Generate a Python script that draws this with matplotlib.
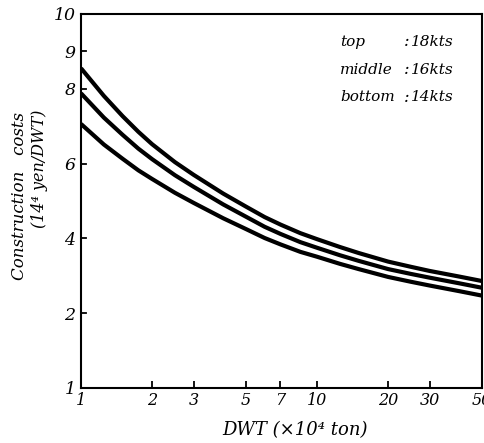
import matplotlib.pyplot as plt

# DWT (x10^4 ton) and construction costs
dwt = [1, 1.25, 1.5, 1.75, 2, 2.5, 3, 4, 5, 6, 7, 8.5, 10, 12.5, 15, 20, 25, 30, 40, 50]
cost_18kts = [8.55, 7.81, 7.27, 6.85, 6.52, 6.04, 5.70, 5.20, 4.85, 4.57,
              4.37, 4.14, 3.98, 3.77, 3.61, 3.38, 3.24, 3.13, 2.98, 2.86]
cost_16kts = [7.88, 7.23, 6.77, 6.40, 6.12, 5.69, 5.38, 4.91, 4.58, 4.31,
              4.12, 3.90, 3.75, 3.55, 3.40, 3.18, 3.05, 2.95, 2.80, 2.68]
cost_14kts = [7.06, 6.51, 6.13, 5.82, 5.59, 5.22, 4.95, 4.54, 4.25, 4.01,
              3.84, 3.64, 3.51, 3.32, 3.18, 2.97, 2.84, 2.74, 2.59, 2.47]

x_ticks = [1, 2, 3, 5, 7, 10, 20, 30, 50]
x_tick_labels = ["1", "2", "3", "5", "7", "10", "20", "30", "50"]
y_ticks = [0, 2, 4, 6, 8, 9, 10]
y_tick_labels = ["1", "2", "4", "6", "8", "9", "10"]

speed_names = ["top", "middle", "bottom"]
speed_values = ["18kts", "16kts", "14kts"]

serif = ["DejaVu Serif", "DejaVu Sans"]
font = dict(family=serif, style="italic")

fig = plt.figure(figsize=(4.85, 4.43), dpi=100)
ax = fig.add_axes([81 / 485, 55 / 443, 401 / 485, 374 / 443])

for costs in (cost_18kts, cost_16kts, cost_14kts):
    ax.plot(dwt, costs, color="black", lw=3.0, solid_capstyle="butt")

ax.set_xscale("log")
ax.set_xlim(1, 50)
ax.set_ylim(0, 10)

ax.set_xticks(x_ticks)
ax.set_xticklabels(x_tick_labels, **font, fontsize=11.5)
ax.minorticks_off()
ax.set_yticks(y_ticks)
ax.set_yticklabels(y_tick_labels, **font, fontsize=12.5)
ax.tick_params(direction="in", length=5, width=1.3, pad=3)
ax.tick_params(axis="y", direction="out", length=0, pad=4)
for yt in y_ticks[1:-1]:
    ax.plot([1, 1.045], [yt, yt], color="black", lw=1.3, clip_on=False)

for side in ax.spines.values():
    side.set_linewidth(1.5)

# legend-like text block
rows_y = [42, 70, 97]
for name, val, py in zip(speed_names, speed_values, rows_y):
    yy = 1 - py / 443
    fig.text(340 / 485, yy, name, ha="left", va="center", fontsize=11, **font)
    fig.text(404 / 485, yy, ":", ha="left", va="center", fontsize=12, **font)
    fig.text(411 / 485, yy, val, ha="left", va="center", fontsize=11, **font)

# axis labels
fig.text(20 / 485, 1 - 112 / 443, "Construction   costs", rotation=90,
         ha="center", va="top", fontsize=12, **font)
fig.text(39 / 485, 1 - 110 / 443, "(14⁴ yen/DWT)", rotation=90,
         ha="center", va="top", fontsize=11.5, **font)
fig.text(295 / 485, 1 - 430 / 443, "DWT (×10⁴ ton)", ha="center", va="center",
         fontsize=13, **font)

plt.savefig("out.png", dpi=100)
plt.close()
